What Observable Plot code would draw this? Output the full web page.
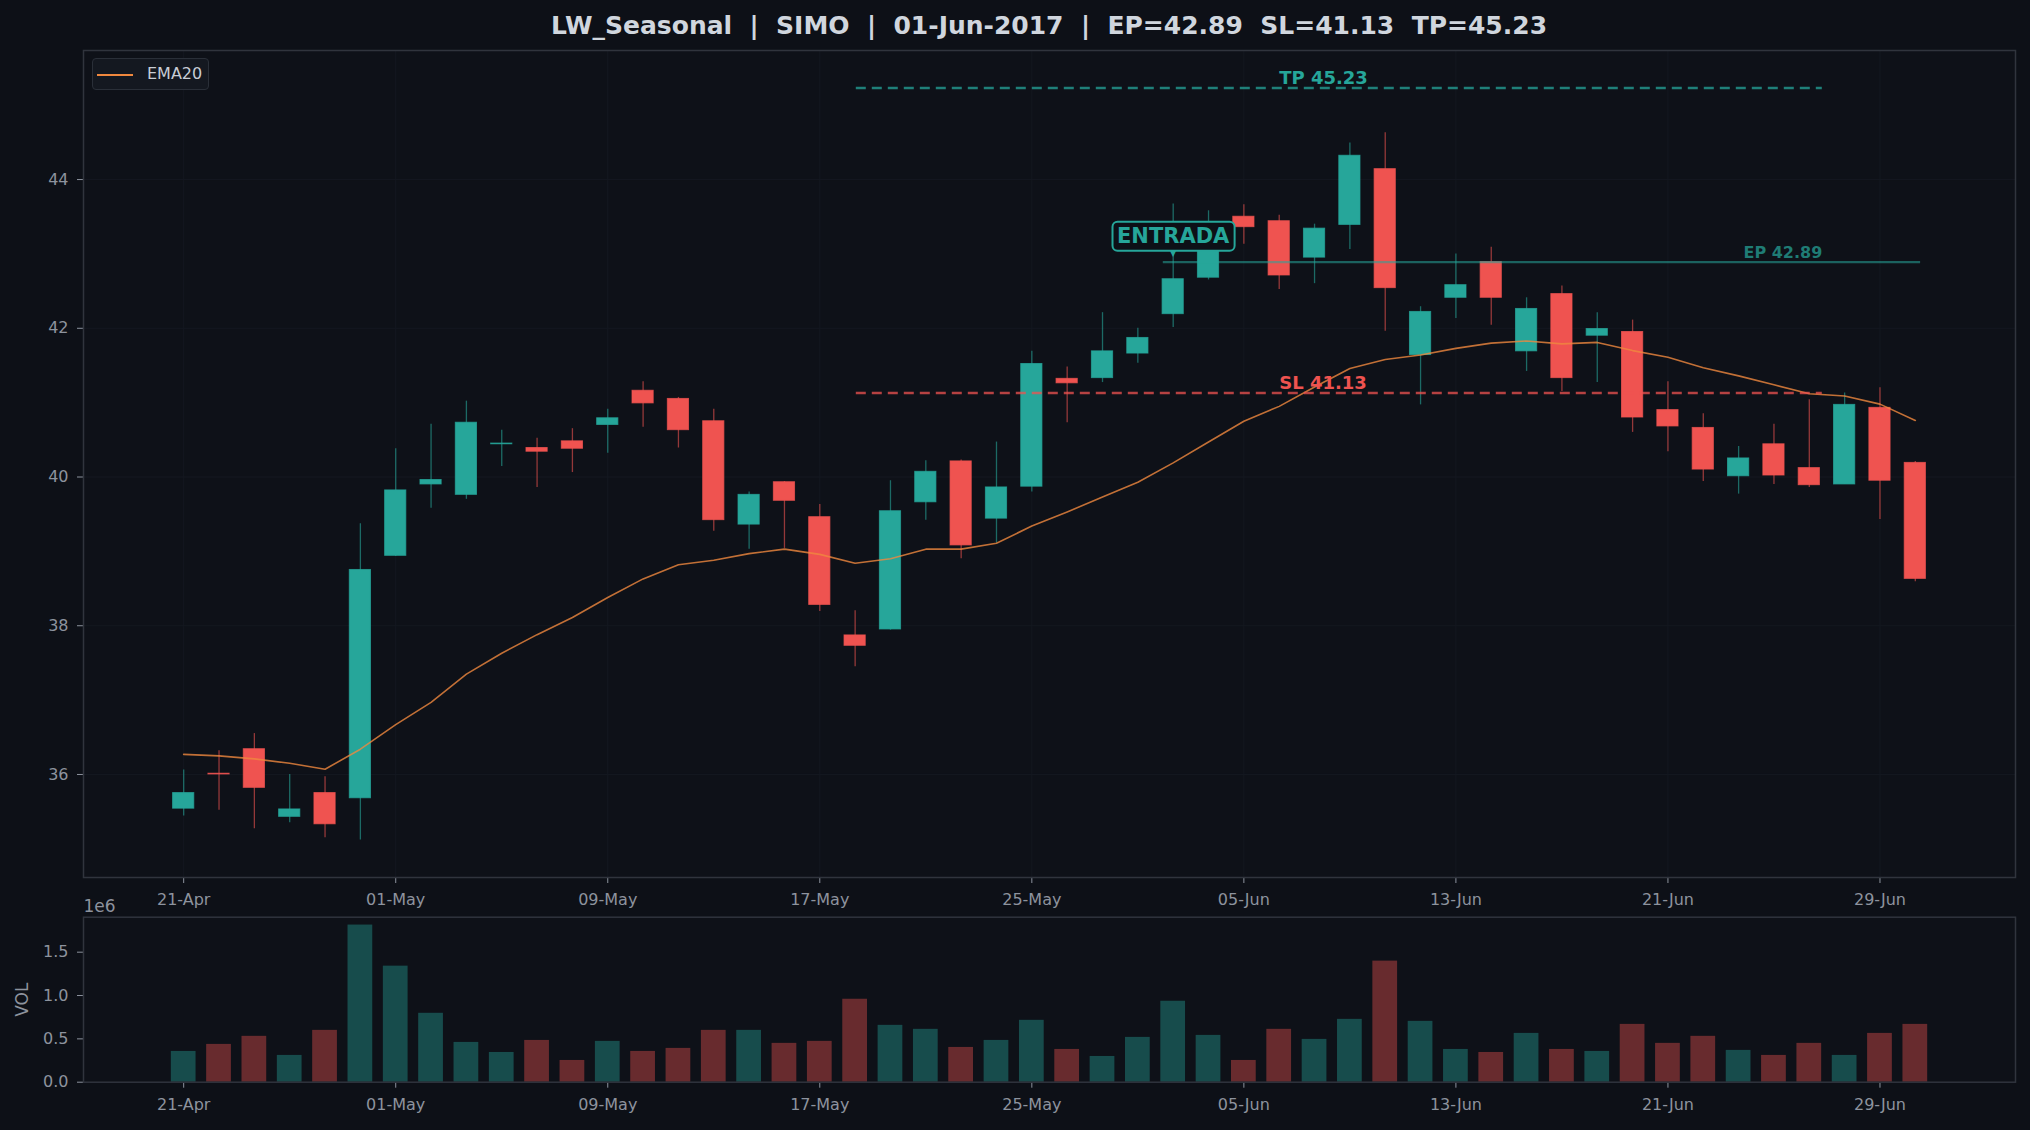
<!DOCTYPE html>
<html>
<head>
<meta charset="utf-8">
<script src="https://cdn.jsdelivr.net/npm/d3@7"></script>
<script src="https://cdn.jsdelivr.net/npm/@observablehq/plot@0.6"></script>
<style>
  html, body { margin: 0; padding: 0; background: #0d1017; }
  body { width: 2030px; height: 1130px; position: relative; overflow: hidden; font-family: "DejaVu Sans", sans-serif; }
  #title { position: absolute; left: 83px; width: 1932px; top: 13px; line-height: 25px; text-align: center;
           color: #d0d6de; font-weight: bold; font-size: 25px; white-space: pre; z-index: 5; }
  #main { position: absolute; left: 0; top: 0; }
  #vol { position: absolute; left: 0; top: 880px; }
  #legend { position: absolute; left: 92px; top: 58px; width: 117px; height: 32px; box-sizing: border-box;
            border: 1.5px solid #2a2f38; border-radius: 4px; background: #141820; z-index: 5; }
  #legend .sw { position: absolute; left: 4px; top: 15px; width: 36px; height: 2px; background: #f0883e; }
  #legend .lb { position: absolute; left: 54px; top: 5px; font-size: 16px; line-height: 20px; color: #c8cdd5; }
</style>
</head>
<body>
<div id="title">LW_Seasonal  |  SIMO  |  01-Jun-2017  |  EP=42.89  SL=41.13  TP=45.23</div>
<div id="main"></div>
<div id="vol"></div>
<div id="legend"><div class="sw"></div><div class="lb">EMA20</div></div>
<script>
// ---------------- data ----------------
const dates = ["21-Apr","24-Apr","25-Apr","26-Apr","27-Apr","28-Apr","01-May","02-May","03-May","04-May",
  "05-May","08-May","09-May","10-May","11-May","12-May","15-May","16-May","17-May","18-May",
  "19-May","22-May","23-May","24-May","25-May","26-May","30-May","31-May","01-Jun","02-Jun",
  "05-Jun","06-Jun","07-Jun","08-Jun","09-Jun","12-Jun","13-Jun","14-Jun","15-Jun","16-Jun",
  "19-Jun","20-Jun","21-Jun","22-Jun","23-Jun","26-Jun","27-Jun","28-Jun","29-Jun","30-Jun"];
const open = [35.54,36.01,36.34,35.43,35.75,35.68,38.94,39.90,39.76,40.44,
  40.39,40.48,40.70,41.16,41.05,40.75,39.36,39.93,39.46,37.87,
  37.95,39.66,40.21,39.44,39.87,41.32,41.33,41.66,42.19,42.68,
  43.50,43.44,42.95,43.39,44.14,41.64,42.41,42.89,41.69,42.46,
  41.90,41.95,40.90,40.66,40.01,40.44,40.12,39.90,40.93,40.19];
const high = [36.06,36.32,36.55,36.00,35.97,39.37,40.38,40.71,41.02,40.63,
  40.52,40.65,40.91,41.28,41.07,40.91,39.80,39.94,39.63,38.20,
  39.95,40.22,40.23,40.47,41.69,41.48,42.21,42.00,43.67,43.58,
  43.66,43.52,43.40,44.49,44.63,42.29,43.00,43.09,42.41,42.57,
  42.21,42.11,41.28,40.85,40.41,40.71,41.04,41.13,41.20,40.21];
const low = [35.44,35.52,35.27,35.35,35.15,35.12,38.93,39.58,39.70,40.14,
  39.86,40.06,40.32,40.67,40.39,39.27,39.03,39.04,38.19,37.45,
  37.94,39.42,38.90,39.11,39.80,40.73,41.27,41.53,42.01,42.65,
  43.13,42.52,42.60,43.06,41.96,40.97,42.13,42.04,41.42,41.15,
  41.27,40.60,40.34,39.94,39.77,39.90,39.86,39.90,39.43,38.59];
const close = [35.75,36.00,35.82,35.53,35.33,38.75,39.82,39.96,40.73,40.45,
  40.34,40.38,40.79,40.99,40.63,39.42,39.76,39.68,38.28,37.73,
  39.54,40.07,39.08,39.86,41.52,41.26,41.69,41.87,42.66,43.16,
  43.36,42.71,43.34,44.32,42.54,42.22,42.58,42.41,42.26,41.33,
  41.99,40.80,40.68,40.10,40.25,40.02,39.89,40.97,39.95,38.63];
const ema20 = [36.27,36.25,36.21,36.15,36.07,36.34,36.67,36.97,37.35,37.63,
  37.88,38.11,38.38,38.63,38.82,38.88,38.97,39.03,38.96,38.84,
  38.90,39.03,39.03,39.11,39.34,39.53,39.73,39.93,40.19,40.47,
  40.75,40.95,41.21,41.46,41.58,41.64,41.73,41.80,41.83,41.79,
  41.81,41.70,41.61,41.47,41.36,41.24,41.12,41.09,40.98,40.76];
const volumeM = [0.355,0.436,0.529,0.309,0.598,1.813,1.339,0.795,0.459,0.343,
  0.482,0.251,0.471,0.355,0.390,0.598,0.598,0.448,0.471,0.957,
  0.656,0.610,0.401,0.482,0.714,0.378,0.297,0.517,0.934,0.540,
  0.251,0.610,0.494,0.725,1.397,0.702,0.378,0.343,0.563,0.378,
  0.355,0.667,0.448,0.529,0.367,0.309,0.448,0.309,0.563,0.667];
const tickLabels = ["21-Apr","01-May","09-May","17-May","25-May","05-Jun","13-Jun","21-Jun","29-Jun"];
const priceTicks = [36, 38, 40, 42, 44];
const volTicks = [0, 0.5, 1.0, 1.5];
const entryDate = "01-Jun";
const EP = 42.89, SL = 41.13, TP = 45.23;

// ---------------- styles ----------------
const UP = "#26a69a", DOWN = "#ef5350";
const GRID = "#141820", SPINE = "#30343d", TICK = "#8d939e";

// ---------------- tables ----------------
const candles = dates.map((d, i) => ({
  i, date: d, open: open[i], high: high[i], low: low[i], close: close[i],
  ema: ema20[i], vol: volumeM[i] * 1e6,
  lo: Math.min(open[i], close[i]), hi: Math.max(open[i], close[i]),
  color: close[i] >= open[i] ? UP : DOWN
}));
const n = candles.length;
const tickIdx = tickLabels.map(t => dates.indexOf(t));
const entryIdx = dates.indexOf(entryDate);

// matplotlib-like 5% margins
const xw = (n - 1) + 0.7;
const xDomain = [-0.35 - 0.05 * xw, n - 1 + 0.35 + 0.05 * xw];
const yLo = d3.min(low), yHi = Math.max(d3.max(high), TP);
const yDomain = [yLo - 0.05 * (yHi - yLo), yHi + 0.05 * (yHi - yLo)];
const fracX = f => xDomain[0] + f * (xDomain[1] - xDomain[0]);
const lvlX1 = fracX(0.4), lvlX2 = fracX(0.9);
const epX1 = entryIdx - 0.28, epX2 = n - 1 + 0.15;
const levels = [
  {name: "TP", v: TP, color: UP},
  {name: "SL", v: SL, color: DOWN}
];

const common = {
  width: 2030,
  marginLeft: 83, marginRight: 15,
  style: {background: "transparent", color: TICK, fontSize: "16px", fontFamily: "DejaVu Sans, sans-serif", overflow: "visible"},
  color: {type: "identity"}
};
const xOpts = {domain: xDomain, ticks: tickIdx, tickFormat: i => dates[i], tickSize: 6, tickPadding: 10, label: null};

// ---------------- main chart ----------------
const main = Plot.plot({
  ...common,
  height: 915, marginTop: 50, marginBottom: 38,
  x: xOpts,
  y: {domain: yDomain, ticks: priceTicks, tickSize: 6, tickPadding: 9, label: null},
  marks: [
    Plot.frame({fill: "#0e1118", stroke: null}),
    Plot.gridX(tickIdx, {stroke: GRID, strokeOpacity: 1}),
    Plot.gridY(priceTicks, {stroke: GRID, strokeOpacity: 1}),
    Plot.ruleX(candles, {x: "i", y1: "low", y2: "high", stroke: "color", strokeOpacity: 0.6, strokeWidth: 1.3}),
    Plot.rect(candles, {x1: d => d.i - 0.3, x2: d => d.i + 0.3, y1: "lo", y2: "hi",
      fill: "color", stroke: "color", strokeOpacity: 0.75, strokeWidth: 1}),
    Plot.line(candles, {x: "i", y: "ema", stroke: "#f0883e", strokeOpacity: 0.8, strokeWidth: 1.6}),
    Plot.ruleY(levels, {y: "v", x1: () => lvlX1, x2: () => lvlX2, stroke: "color", strokeOpacity: 0.75,
      strokeWidth: 2.5, strokeDasharray: "10,6"}),
    Plot.text(levels, {x: () => entryIdx + 3, y: "v", text: d => `${d.name} ${d.v.toFixed(2)}`, fill: "color",
      fontWeight: "bold", fontSize: 18, textAnchor: "start", lineAnchor: "bottom", dy: -4}),
    Plot.ruleY([EP], {y: d => d, x1: () => epX1, x2: () => epX2, stroke: UP, strokeOpacity: 0.55, strokeWidth: 2.2}),
    Plot.text([EP], {x: () => lvlX2, y: d => d, text: d => `EP ${d.toFixed(2)}`, fill: UP, fillOpacity: 0.72,
      fontWeight: "bold", fontSize: 16, textAnchor: "end", lineAnchor: "bottom", dy: -4}),
    Plot.text([EP], {x: () => entryIdx, y: d => d, text: () => "▼", fill: UP, fontSize: 8, lineAnchor: "middle", dy: -9}),
    Plot.text([EP], {x: () => entryIdx, y: d => d, text: () => "ENTRADA", fill: UP, fontWeight: "bold",
      fontSize: 21, textAnchor: "middle", lineAnchor: "middle", dy: -26}),
    Plot.frame({stroke: SPINE, strokeWidth: 1.5})
  ]
});
document.getElementById("main").appendChild(main);

// box behind the ENTRADA label
{
  const svg = main.tagName.toLowerCase() === "svg" ? main : main.querySelector("svg");
  const t = d3.select(svg).selectAll("text").filter(function () { return this.textContent === "ENTRADA"; }).node();
  if (t) {
    const bb = t.getBoundingClientRect(), sb = svg.getBoundingClientRect();
    const g = t.parentNode;
    d3.select(g.parentNode).insert("rect", () => g)
      .attr("x", bb.left - sb.left - 4.5).attr("y", bb.top - sb.top - 2)
      .attr("width", bb.width + 9).attr("height", bb.height + 5)
      .attr("rx", 5).attr("fill", "#0d1017").attr("stroke", UP).attr("stroke-width", 2);
  }
}

// ---------------- volume chart ----------------
const vmax = d3.max(candles, d => d.vol);
const vol = Plot.plot({
  ...common,
  height: 250, marginTop: 36.7, marginBottom: 48.3,
  x: xOpts,
  y: {domain: [0, vmax * 1.05], ticks: volTicks.map(v => v * 1e6), tickFormat: d => (d / 1e6).toFixed(1),
      tickSize: 6, tickPadding: 9, label: null},
  marks: [
    Plot.frame({fill: "#0e1118", stroke: null}),
    Plot.rect(candles, {x1: d => d.i - 0.35, x2: d => d.i + 0.35, y1: 0, y2: "vol", fill: "color", fillOpacity: 0.4}),
    Plot.text(["1e6"], {text: d => d, frameAnchor: "top-left", textAnchor: "start", lineAnchor: "bottom",
      dy: -5, fontSize: 17, fill: TICK}),
    Plot.text(["VOL"], {text: d => d, frameAnchor: "left", rotate: -90, textAnchor: "middle", lineAnchor: "top",
      dx: -68, fontSize: 17, fill: TICK}),
    Plot.frame({stroke: SPINE, strokeWidth: 1.5})
  ]
});
document.getElementById("vol").appendChild(vol);
</script>
</body>
</html>
